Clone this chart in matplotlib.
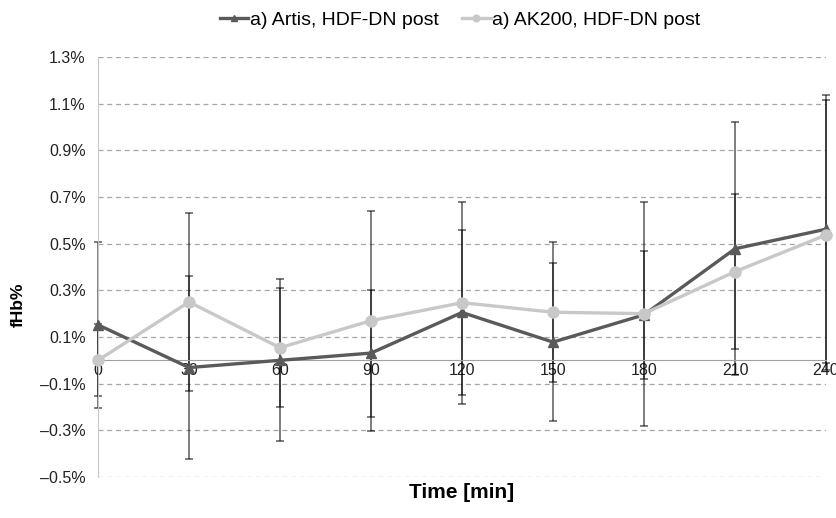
import matplotlib
matplotlib.use("Agg")
import matplotlib.pyplot as plt

# time points [min]
time = [0, 30, 60, 90, 120, 150, 180, 210, 240]

# fHb% values
artis = [0.152, -0.031, 0.0, 0.031, 0.205, 0.078, 0.195, 0.478, 0.562]
artis_err = [0.355, 0.393, 0.347, 0.272, 0.353, 0.338, 0.274, 0.543, 0.575]
ak200 = [0.0, 0.25, 0.054, 0.17, 0.247, 0.206, 0.20, 0.38, 0.537]
ak200_err = [0.155, 0.38, 0.256, 0.472, 0.433, 0.301, 0.48, 0.333, 0.577]

labels = ["a) Artis, HDF-DN post", "a) AK200, HDF-DN post"]
y_ticks = [-0.5, -0.3, -0.1, 0.1, 0.3, 0.5, 0.7, 0.9, 1.1, 1.3]
y_ticklabels = ["\u20130.5%", "\u20130.3%", "\u20130.1%", "0.1%", "0.3%",
                "0.5%", "0.7%", "0.9%", "1.1%", "1.3%"]

plt.rcParams['font.family'] = ['Liberation Sans', 'DejaVu Sans']

fig = plt.figure(figsize=(8.37, 5.18), dpi=100)
ax = fig.add_axes([0.1171, 0.0792, 0.8698, 0.8108])

# error bars (semi-transparent so overlapping parts look darker)
for y, e in [(artis, artis_err), (ak200, ak200_err)]:
    eb = ax.errorbar(time, y, yerr=e, fmt='none', ecolor=(0, 0, 0, 0.55),
                     elinewidth=1.3, capsize=3, capthick=1.3, zorder=2)
    for art in eb.lines[1] + eb.lines[2]:
        art.set_clip_on(False)

ax.plot(time, artis, color='#5a5a5a', lw=2.4, marker='^', ms=7.5,
        label=labels[0], zorder=3, clip_on=False)
ax.plot(time, ak200, color='#c8c8c8', lw=2.4, marker='o', ms=8,
        label=labels[1], zorder=4, clip_on=False)

ax.set_xlim(0, 240)
ax.set_ylim(-0.5, 1.3)
ax.set_xticks(time)
ax.set_yticks(y_ticks)
ax.set_yticklabels(y_ticklabels)

ax.grid(axis='y', linestyle=(0, (4, 3)), color='#a6a6a6', lw=0.9)
ax.set_axisbelow(True)

for s in ['top', 'right']:
    ax.spines[s].set_visible(False)
ax.spines['bottom'].set_position(('data', 0))
ax.spines['bottom'].set_color('#a0a0a0')
ax.spines['left'].set_color('#c8c8c8')
ax.tick_params(axis='both', length=0, labelsize=11.5, colors='#222222')
ax.tick_params(axis='y', pad=9)
ax.tick_params(axis='x', pad=2)

ax.set_xlabel("Time [min]", fontsize=15, fontweight='bold')
ax.xaxis.set_label_coords(0.5, -0.014)
fig.text(0.022, 1 - 305 / 518, "fHb%", rotation=90, fontsize=12.5,
         fontweight='bold', ha='center', va='center')

fig.legend(loc='upper center', bbox_to_anchor=(0.55, 1.012), ncol=2,
           frameon=False, fontsize=14, handlelength=1.45, handletextpad=0.1,
           columnspacing=1.2, markerscale=0.6)

fig.savefig("out.png", dpi=100)
